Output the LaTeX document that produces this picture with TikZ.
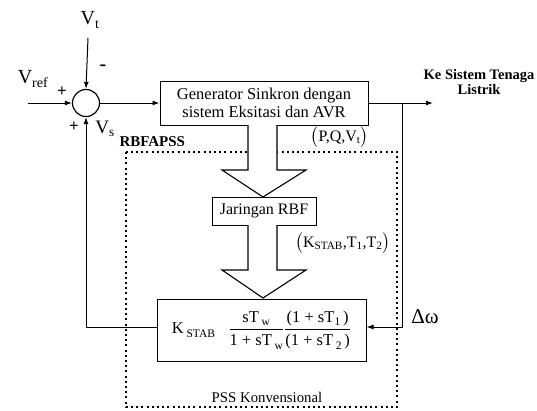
\documentclass[tikz,border=0pt]{standalone}
\usepackage{fontspec}
\usepackage{amsmath}
\setmainfont{Liberation Serif}
\usetikzlibrary{arrows.meta}
\newcommand{\lowsub}[2][11.5]{\raisebox{-0.5ex}{\fontsize{#1}{#1}\selectfont #2}}
\begin{document}
\begin{tikzpicture}[x=1pt,y=-1pt,
  line width=1pt,
  arr/.style={-{Latex[length=7pt,width=5pt]}},
  blk/.style={draw,rectangle,fill=white,inner sep=2pt,align=center},
  bigarrow/.style={draw,fill=white,line width=1.1pt,line join=miter},
  lbl/.style={inner sep=0pt}]
\useasboundingbox (0,0) rectangle (537,410);

% summing junction
\node[draw,circle,minimum size=27pt,inner sep=0pt,line width=1.2pt] (sum) at (86,103) {};

% blocks
\node[blk,minimum width=208pt,minimum height=44pt,font=\fontsize{16.5}{18}\selectfont] (gen) at (264,103) {Generator Sinkron dengan\\sistem Eksitasi dan AVR};

% dotted RBFAPSS box
\draw[line width=1.3pt,dash pattern=on 2pt off 3.2pt] (126,152) rectangle (397,407);

\node[blk,minimum width=104pt,minimum height=28pt,font=\fontsize{16}{17}\selectfont] (rbf) at (264,211) {Jaringan RBF};
\node[blk,minimum width=209pt,minimum height=62pt,font=\fontsize{16.5}{18}\selectfont] (pss) at (261.5,330)
  {K\,\lowsub{STAB}\;\;
   $\dfrac{\text{sT\,\lowsub{w}}}{\text{1 + sT\,\lowsub{w}}}
    \dfrac{\text{(1 + sT\lowsub{1}\,)}}{\text{(1 + sT\,\lowsub{2}\,)}}$};

% big hollow arrows
\draw[bigarrow] (248,125) -- (248,170) -- (222,170) -- (263,197) -- (306,170) -- (277,170) -- (277,125);
\draw[bigarrow] (248,225) -- (248,270) -- (222,270) -- (263,298) -- (306,270) -- (277,270) -- (277,225);

% labels
\node[lbl,font=\fontsize{20}{22}\selectfont] (vt) at (90,20) {V\textsubscript{t}};
\node[lbl,font=\fontsize{20}{22}\selectfont] (vref) at (33,79) {V\textsubscript{ref}};
\node[lbl,font=\fontsize{19}{21}\selectfont] (vs) at (105,129) {V\textsubscript{s}};
\node[lbl,font=\bfseries\fontsize{17}{18}\selectfont] (pplus1) at (62,92) {+};
\node[lbl,font=\bfseries\fontsize{20}{20}\selectfont] (pminus) at (103,68) {-};
\node[lbl,font=\bfseries\fontsize{17}{18}\selectfont] (pplus2) at (74,127) {+};
\node[lbl,font=\bfseries\fontsize{15}{17}\selectfont,anchor=west] (rbfapss) at (119,142) {RBFAPSS};
\node[lbl,font=\fontsize{16}{18}\selectfont,anchor=east] (pqv) at (369,137) {$\bigl($P,Q,V\textsubscript{t}$\bigr)$};
\node[lbl,font=\fontsize{16}{18}\selectfont,anchor=east] (kt) at (391,243) {$\bigl($K\textsubscript{STAB},T\textsubscript{1},T\textsubscript{2}$\bigr)$};
\node[lbl,font=\bfseries\fontsize{14.5}{15.5}\selectfont,align=center] (ke) at (479,82) {Ke Sistem Tenaga\\Listrik};
\node[lbl,font=\fontsize{21}{22}\selectfont] (dw) at (425,317) {Δω};
\node[lbl,font=\fontsize{14.8}{16}\selectfont] (pssk) at (267,397) {PSS Konvensional};

% connectors
\coordinate (vtin) at (88,38);
\coordinate (refin) at (28,103);
\coordinate (out) at (433,103);
\coordinate (tap) at (402,103);
\draw[arr] (vtin) -- (sum.north);
\draw[arr] (refin) -- (sum.west);
\draw[arr] (sum.east) -- (gen.west);
\draw[arr] (gen.east) -- (out);
\draw[arr] (tap) |- ([yshift=3pt]pss.east);
\draw[arr] ([yshift=3pt]pss.west) -| (sum.south);
\end{tikzpicture}
\end{document}
